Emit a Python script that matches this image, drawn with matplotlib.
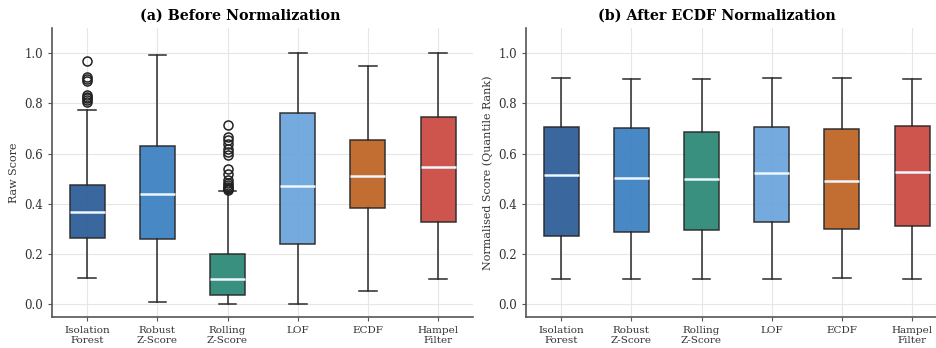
import matplotlib
matplotlib.use("Agg")
import matplotlib.pyplot as plt

plt.rcParams["font.family"] = "DejaVu Serif"

METHODS = ["Isolation\nForest", "Robust\nZ-Score", "Rolling\nZ-Score", "LOF", "ECDF", "Hampel\nFilter"]
COLORS = ["#2f5f98", "#3d82c2", "#2e8a78", "#6ca6dc", "#bf6526", "#cc4c44"]

# (a) raw scores: whisker low, q1, median, q3, whisker high
RAW_WLO = [0.105, 0.008, 0.000, 0.000, 0.053, 0.100]
RAW_Q1 = [0.264, 0.262, 0.036, 0.240, 0.384, 0.328]
RAW_MED = [0.369, 0.440, 0.102, 0.470, 0.509, 0.547]
RAW_Q3 = [0.477, 0.629, 0.202, 0.760, 0.652, 0.744]
RAW_WHI = [0.774, 0.991, 0.451, 1.000, 0.949, 1.000]
RAW_FLIERS = [
    [0.967, 0.903, 0.895, 0.888, 0.833, 0.826, 0.820, 0.812, 0.806],
    [],
    [0.714, 0.666, 0.653, 0.640, 0.620, 0.605, 0.594, 0.540, 0.520, 0.494,
     0.484, 0.476, 0.467, 0.462, 0.458, 0.454],
    [], [], [],
]

# (b) after ECDF normalisation
NRM_WLO = [0.100, 0.100, 0.100, 0.102, 0.104, 0.102]
NRM_Q1 = [0.274, 0.290, 0.295, 0.329, 0.301, 0.312]
NRM_MED = [0.514, 0.501, 0.497, 0.521, 0.491, 0.527]
NRM_Q3 = [0.705, 0.701, 0.685, 0.705, 0.698, 0.708]
NRM_WHI = [0.899, 0.897, 0.897, 0.900, 0.900, 0.897]


def stats(wlo, q1, med, q3, whi, fliers=None):
    out = []
    for i in range(len(med)):
        out.append({"whislo": wlo[i], "q1": q1[i], "med": med[i], "q3": q3[i],
                    "whishi": whi[i], "fliers": (fliers[i] if fliers else [])})
    return out


def panel(ax, st, title, ylabel, title_x):
    b = ax.bxp(st, positions=range(1, 7), widths=0.5, patch_artist=True,
               showfliers=True,
               boxprops=dict(edgecolor="#2a2a2a", linewidth=1.1),
               medianprops=dict(color="#eef6ff", linewidth=1.8),
               whiskerprops=dict(color="#2a2a2a", linewidth=1.1),
               capprops=dict(color="#2a2a2a", linewidth=1.1),
               flierprops=dict(marker="o", markerfacecolor="none",
                               markeredgecolor="#222222", markersize=6.5, markeredgewidth=1.1))
    for patch, c in zip(b["boxes"], COLORS):
        patch.set_facecolor(c)
        patch.set_alpha(0.95)
    ax.set_xlim(0.5, 6.5)
    ax.set_ylim(-0.05, 1.1)
    ax.set_yticks([0.0, 0.2, 0.4, 0.6, 0.8, 1.0])
    ax.set_xticks(range(1, 7))
    ax.set_xticklabels(METHODS, fontsize=7.5, color="#333333", linespacing=1.15)
    ax.tick_params(axis="y", labelsize=8.5, colors="#333333")
    ax.tick_params(axis="both", color="#555555", length=3)
    ax.set_ylabel(ylabel, fontsize=8, color="#333333")
    ax.set_title(title, fontsize=10.3, fontweight="bold", pad=6, x=title_x)
    ax.grid(True, color="#e6e6e6", linewidth=0.8)
    ax.set_axisbelow(True)
    for s in ("top", "right"):
        ax.spines[s].set_visible(False)
    for s in ("left", "bottom"):
        ax.spines[s].set_color("#555555")
        ax.spines[s].set_linewidth(1.2)


fig = plt.figure(figsize=(9.36, 3.48), dpi=100)
ax1 = fig.add_axes([0.0556, 0.089, 0.450, 0.831])
ax2 = fig.add_axes([0.562, 0.089, 0.450, 0.831])

panel(ax1, stats(RAW_WLO, RAW_Q1, RAW_MED, RAW_Q3, RAW_WHI, RAW_FLIERS),
      "(a) Before Normalization", "Raw Score", 0.447)
panel(ax2, stats(NRM_WLO, NRM_Q1, NRM_MED, NRM_Q3, NRM_WHI),
      "(b) After ECDF Normalization", "Normalised Score (Quantile Rank)", 0.454)

fig.savefig("out.png", dpi=100)
